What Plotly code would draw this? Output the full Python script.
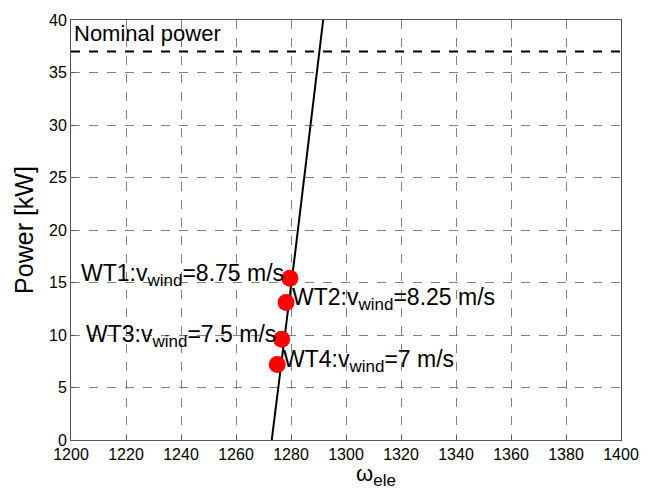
import plotly.graph_objects as go

# Power vs. electrical speed characteristic
omega_curve = [1273.0, 1275.7, 1281.5, 1291.7]
power_curve = [0.0, 5.6, 17.8, 40.0]

# Operating points of the four turbines
turbines = ["WT1", "WT2", "WT3", "WT4"]
wind_speeds = ["8.75", "8.25", "7.5", "7"]
omega_pts = [1279.6, 1278.2, 1276.6, 1275.0]
power_pts = [15.4, 13.1, 9.6, 7.2]
label_side = ["left", "right", "left", "right"]

nominal_power = 37
x_range = [1200, 1400]
y_range = [0, 40]
x_ticks = list(range(1200, 1401, 20))
y_ticks = list(range(0, 41, 5))

FONT = "Liberation Sans, Arial, sans-serif"
SUB = "<sub><span style='font-size:17px'>{}</span></sub>"

fig = go.Figure()

fig.add_trace(go.Scatter(x=omega_curve, y=power_curve, mode="lines",
                         line=dict(color="black", width=2), showlegend=False))
fig.add_trace(go.Scatter(x=x_range, y=[nominal_power, nominal_power], mode="lines",
                         line=dict(color="black", width=2, dash="dash"), showlegend=False))
fig.add_trace(go.Scatter(x=omega_pts, y=power_pts, mode="markers",
                         marker=dict(color="red", size=17), showlegend=False))

for name, v, xo, yo, side in zip(turbines, wind_speeds, omega_pts, power_pts, label_side):
    fig.add_annotation(
        x=xo, y=yo, xref="x", yref="y",
        text=f"{name}:v" + SUB.format("wind") + "=" + v + " m/s",
        showarrow=False,
        xanchor="right" if side == "left" else "left",
        xshift=-4 if side == "left" else 4,
        yshift=3,
        font=dict(family=FONT, size=23, color="black"),
    )

fig.add_annotation(x=x_range[0], y=nominal_power, xref="x", yref="y",
                   text="Nominal power", showarrow=False,
                   xanchor="left", yanchor="bottom", xshift=1, yshift=3,
                   font=dict(family=FONT, size=22, color="black"))

# x-axis title placed as a free annotation below the plot
fig.add_annotation(x=0.555, y=-0.045, xref="paper", yref="paper",
                   text="ω" + SUB.format("ele"), showarrow=False,
                   xanchor="center", yanchor="top",
                   font=dict(family=FONT, size=22, color="black"))

axis_common = dict(showgrid=True, gridcolor="#808080", griddash="dash", gridwidth=1,
                   showline=True, linecolor="#555555", linewidth=1, mirror=True,
                   ticks="inside", ticklen=4, tickcolor="#555555",
                   tickfont=dict(family=FONT, size=16, color="black"),
                   zeroline=False)

fig.update_xaxes(range=x_range, tickvals=x_ticks, **axis_common)
fig.update_yaxes(range=y_range, tickvals=y_ticks, **axis_common,
                 title=dict(text="Power [kW]", font=dict(family=FONT, size=25, color="black"),
                            standoff=8))

fig.update_layout(width=656, height=501, margin=dict(l=71, r=35, t=13, b=61),
                  plot_bgcolor="white", paper_bgcolor="white")

fig.write_html("out.html")
